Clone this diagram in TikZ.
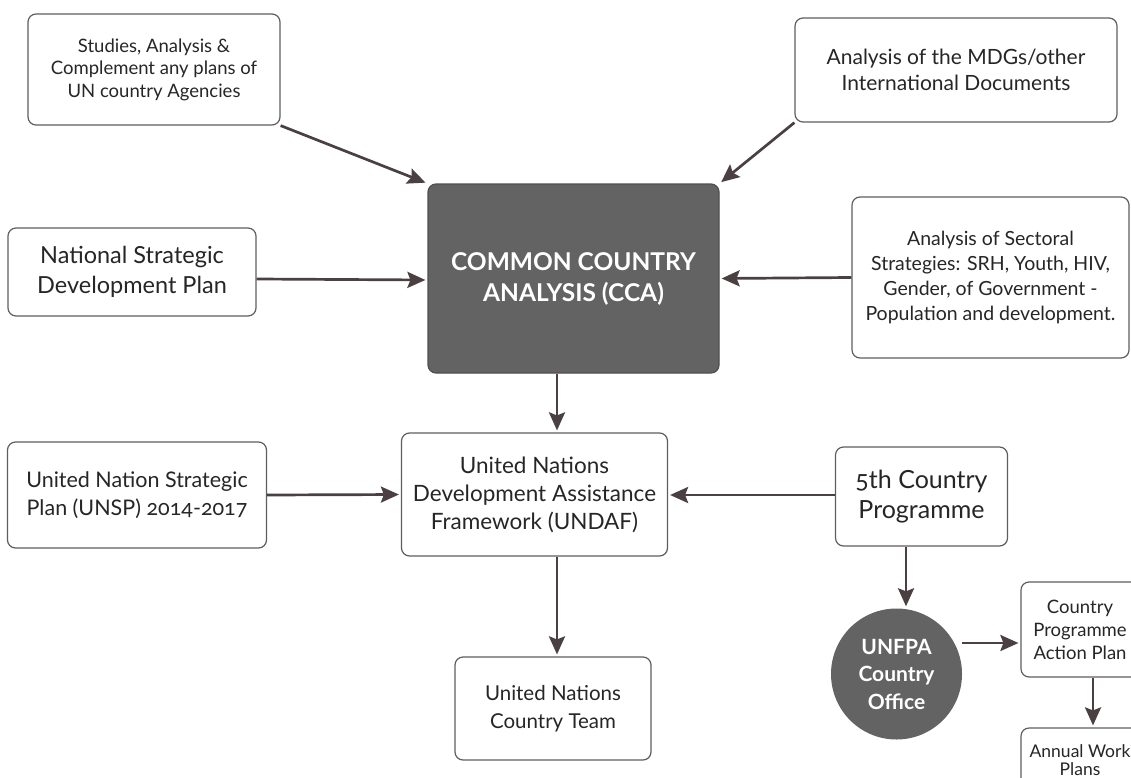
\documentclass[tikz,border=0pt]{standalone}
\usepackage{fontspec}
\setmainfont{Lato}[Numbers=OldStyle]
\usetikzlibrary{arrows.meta}
\definecolor{arrc}{HTML}{4A3F41}
\definecolor{boxc}{HTML}{5E5E5E}
\definecolor{darkf}{HTML}{636363}
\tikzset{
  box/.style={draw=boxc, line width=1.2pt, rounded corners=8pt, fill=white, align=center, inner sep=0pt, text=black!85},
  darkbox/.style={box, fill=darkf, draw=darkf!80!black, text=white, font=\bfseries\fontsize{24.5}{31}\selectfont},
  darkcirc/.style={circle, fill=darkf, align=center, inner sep=0pt, text=white, minimum size=131pt, font=\bfseries\fontsize{21}{27.5}\selectfont},
  arr/.style={draw=arrc, line width=2.7pt, -{Stealth[length=18pt,width=16pt,inset=3pt]}, shorten >=2pt}
}
\begin{document}
\begin{tikzpicture}[x=1pt,y=-1pt]
\useasboundingbox (0,0) rectangle (1131,778);
\clip (0,0) rectangle (1131,778);
\fill[white] (0,0) rectangle (1131,778);

\node[box, minimum width=252pt, minimum height=111pt, font=\fontsize{18.5}{22.5}\selectfont] (stud) at (154,69.5) {Studies, Analysis \&\\Complement any plans of\\UN country Agencies};
\node[box, minimum width=322pt, minimum height=104pt, font=\fontsize{21}{26}\selectfont] (mdg) at (956,70) {Analysis of the MDGs/other\\International Documents};
\node[darkbox, minimum width=291pt, minimum height=189pt] (cca) at (573.5,278.5) {COMMON COUNTRY\\ANALYSIS (CCA)};
\node[box, minimum width=248pt, minimum height=88pt, font=\fontsize{23.5}{30}\selectfont] (nat) at (132,272) {National Strategic\\Development Plan};
\node[box, minimum width=277pt, minimum height=161pt, font=\fontsize{19.5}{25}\selectfont] (sect) at (990.5,277.5) {Analysis of Sectoral\\Strategies: SRH, Youth, HIV,\\Gender, of Government -\\Population and development.};
\node[box, minimum width=259pt, minimum height=106pt, font=\fontsize{21.5}{28}\selectfont] (unsp) at (137,495) {United Nation Strategic\\Plan (UNSP) 2014-2017};
\node[box, minimum width=266pt, minimum height=123pt, font=\fontsize{22.5}{28}\selectfont] (undaf) at (534.5,494.5) {United Nations\\Development Assistance\\Framework (UNDAF)};
\node[box, minimum width=172pt, minimum height=99pt, font=\fontsize{25}{30}\selectfont] (fifth) at (921.5,496.5) {5th Country\\Programme};
\node[box, minimum width=196pt, minimum height=103pt, font=\fontsize{20.5}{28}\selectfont] (unct) at (553,708.5) {United Nations\\Country Team};
\node[darkcirc] (unfpa) at (896.5,674) {UNFPA\\Country\\Office};
\node[box, minimum width=118pt, minimum height=95pt, font=\fontsize{18.5}{23}\selectfont] (cpap) at (1080,629.5) {Country\\Programme\\Action Plan};
\node[box, minimum width=118pt, minimum height=64pt, font=\fontsize{17.5}{18}\selectfont] (annual) at (1080,760) {Annual Work\\Plans};

\draw[arr] (stud.south east) -- (cca.north west);
\draw[arr] (mdg.south west) -- (cca.north east);
\draw[arr] ([yshift=-7pt]nat.east) -- ([yshift=-1.5pt]cca.west);
\draw[arr] (sect.west) -- (cca.east);
\draw[arr] ([xshift=-16.5pt]cca.south) -- ([xshift=-16.5pt]cca.south |- undaf.north);
\draw[arr] (unsp.east) -- (undaf.west);
\draw[arr] ([yshift=1.5pt]fifth.west) -- ([yshift=-0.5pt]undaf.east);
\draw[arr] ([xshift=22.5pt]undaf.south) -- ([xshift=22.5pt]undaf.south |- unct.north);
\draw[arr] ([xshift=-15.5pt]fifth.south) -- ([xshift=-15.5pt]fifth.south |- unfpa.north);
\draw[arr] ([yshift=31pt]unfpa.east) -- ([yshift=31pt]unfpa.east -| cpap.west);
\draw[arr] ([xshift=13pt]cpap.south) -- ([xshift=13pt]cpap.south |- annual.north);
\end{tikzpicture}
\end{document}
